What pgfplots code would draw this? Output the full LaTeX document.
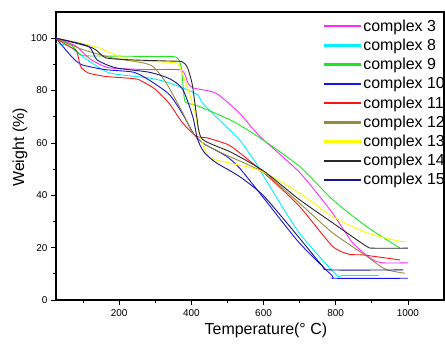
\documentclass[border=0pt]{standalone}
\usepackage{fontspec}
\setmainfont{Liberation Sans}
\usepackage{pgfplots}
\pgfplotsset{compat=1.18}
\definecolor{cthree}{RGB}{255,40,255}
\definecolor{ceight}{RGB}{0,240,255}
\definecolor{cnine}{RGB}{30,230,30}
\definecolor{cten}{RGB}{20,20,240}
\definecolor{celeven}{RGB}{255,20,20}
\definecolor{ctwelve}{RGB}{150,140,60}
\definecolor{cthirteen}{RGB}{255,250,0}
\definecolor{cfourteen}{RGB}{40,40,40}
\definecolor{cfifteen}{RGB}{20,20,140}
\begin{document}
\begin{tikzpicture}
\begin{axis}[
  scale only axis,
  width=388bp, height=288bp,
  xmin=25, xmax=1100, ymin=0, ymax=110,
  xtick={200,400,600,800,1000},
  minor xtick={100,300,500,700,900},
  ytick={0,20,40,60,80,100},
  minor ytick={10,30,50,70,90},
  tick align=outside,
  major tick length=5bp, minor tick length=3bp,
  xtick pos=bottom, ytick pos=left,
  axis line style={line width=1.1pt},
  tick style={line width=0.8pt, black},
  /pgf/number format/assume math mode=true,
  /pgf/number format/1000 sep={},
  tick label style={font=\fontsize{10}{12}\selectfont},
  xticklabel style={yshift=-1bp},
  xlabel={Temperature(° C)},
  ylabel={Weight (\%)},
  label style={font=\fontsize{16}{19}\selectfont},
  xlabel style={at={(axis description cs:0.541,0)}, anchor=center, yshift=-30bp},
  ylabel style={at={(axis description cs:-0.093,0.53)}, anchor=center},
  every axis plot/.append style={line width=0.9pt, smooth, tension=0.4},
  legend image code/.code={\fill[#1] (-3bp,-0.75bp) rectangle (33bp,0.75bp);},
  legend style={draw=none, fill=none, at={(rel axis cs:1,1)}, anchor=north east,
    xshift=3bp, yshift=-5.4bp, font=\fontsize{16}{19}\selectfont, row sep=2.2bp,
    inner sep=0pt},
  legend cell align=left,
]
\coordinate (bl) at (rel axis cs:0,0);
\coordinate (tr) at (rel axis cs:1,1);
% complex 3
\addplot[cthree] coordinates {(25,100)(80,97)(120,92)(172,88.7)(280,88)(372,87.8)(390,83)(405,81)(468,79)(533,71.4)(589,62.6)(700,48.7)(790,33.4)(846,22)(900,15.6)(931,14.2)(1000,14.2)};
% complex 8
\addplot[ceight] coordinates {(25,98)(60,97)(99,93)(172,86.8)(283,84.8)(330,83.3)(376,81)(417,78.4)(431,75.2)(468,70)(533,61.2)(579,52.3)(606,46)(698,25.8)(800,9.8)(820,9.4)(920,9.4)};
% complex 9
\addplot[cnine] coordinates {(25,100)(70,97)(95,93.5)(150,93.2)(300,93)(357,92.8)(372,89)(381,76.5)(394,75)(420,74)(512,68.5)(589,62)(700,51)(790,38.5)(883,28.3)(978,19.8)};
% complex 10
\addplot[cten] coordinates {(25,100)(68,93)(96,89.9)(161,88)(240,87)(283,84)(339,78.5)(376,71)(404,64)(431,60)(496,55)(533,50.5)(600,39)(698,22)(790,9.3)(800,8.3)(1000,8.3)};
% complex 11
\addplot[celeven] coordinates {(25,99.8)(60,97)(82,95)(91,90)(96,88.6)(115,86.7)(161,85.4)(244,84.5)(265,83.4)(300,80.5)(339,75)(376,67.6)(413,62.6)(441,62)(478,60.5)(512,58.5)(600,48.7)(698,36)(790,20.7)(836,17.5)(876,17.2)(978,15.3)};
% complex 12
\addplot[ctwelve] coordinates {(25,100)(98,95.7)(181,92.5)(265,90.6)(295,89)(330,83)(376,71.5)(404,63.7)(431,60)(496,55.4)(600,48.7)(698,37.2)(790,25.8)(883,17)(937,11.8)(992,10.2)};
% complex 13
\addplot[cthirteen] coordinates {(25,100)(98,98)(144,96.3)(189,93.7)(237,91.5)(330,90.8)(364,90)(392,80)(410,71.4)(424,62.5)(445,55.4)(468,53.5)(589,49.5)(698,41)(790,32)(883,25.8)(975,22.5)(996,22.3)};
% complex 14
\addplot[cfourteen] coordinates {(25,100)(126,96.3)(163,92.5)(237,91.7)(330,91.3)(375,91)(390,88.5)(403,82)(415,70)(430,61.5)(512,56.3)(600,49.3)(698,38.5)(790,29.6)(883,20.7)(904,19.8)(1000,19.8)};
% complex 15
\addplot[cfifteen] coordinates {(25,100)(115,96.9)(138,91.8)(190,88.7)(283,87)(340,84.5)(376,80.5)(404,70)(417,61.5)(435,56.5)(468,52.5)(533,47.2)(600,39.8)(698,23.9)(763,13)(783,11.5)(987,11.5)};
\legend{complex 3,complex 8,complex 9,complex 10,complex 11,complex 12,complex 13,complex 14,complex 15}
\end{axis}
\pgfresetboundingbox
\path[use as bounding box] ([shift={(-56bp,-44bp)}]bl) rectangle ([shift={(1bp,12bp)}]tr);
\end{tikzpicture}
\end{document}
